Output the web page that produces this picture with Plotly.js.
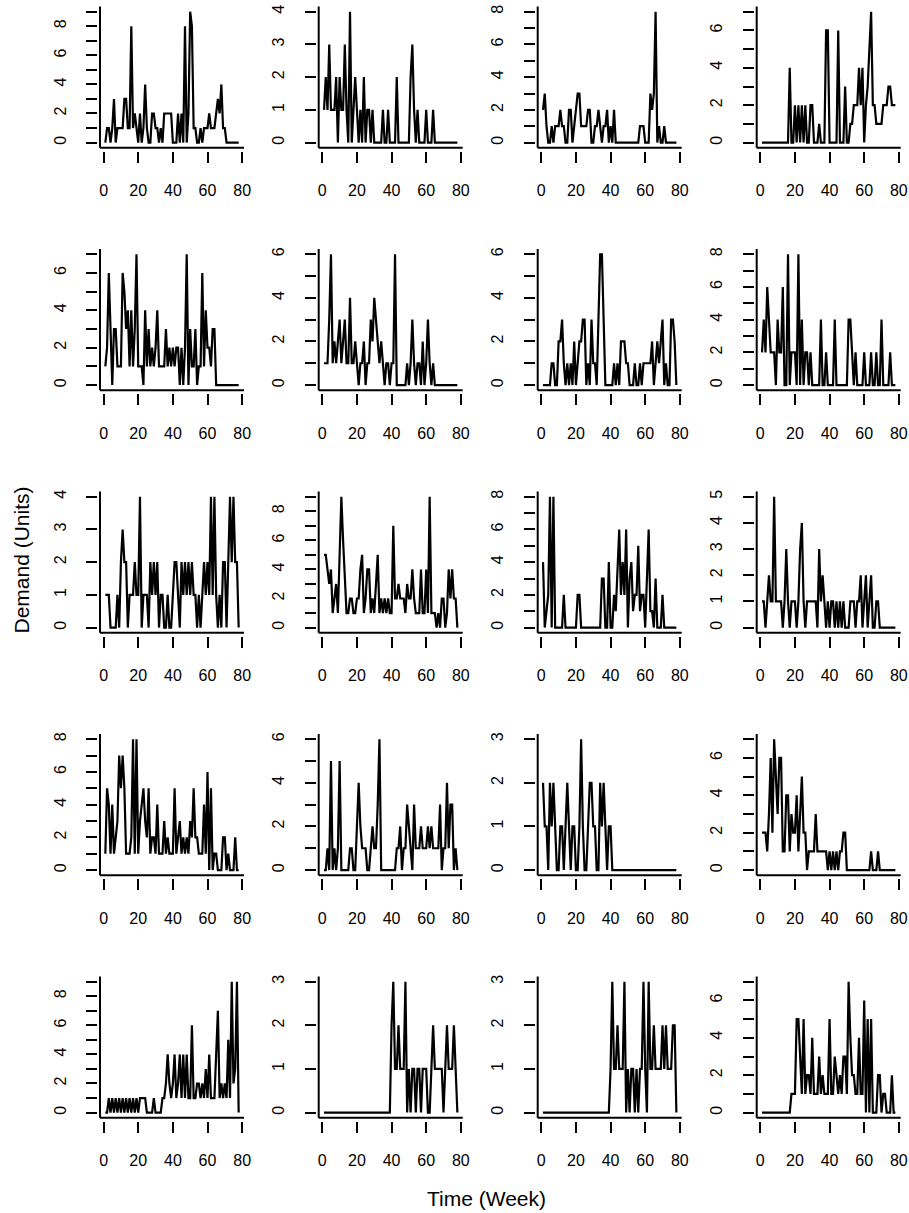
<!DOCTYPE html>
<html><head><meta charset="utf-8">
<script src="https://cdn.plot.ly/plotly-3.0.1.min.js"></script>
<style>html,body{margin:0;padding:0;background:#fff}#chart{width:909px;height:1213px}</style>
</head><body><div id="chart"></div>
<script>
// Weekly demand series (78 weeks each)
const s01 = [0,1,1,0,1,3,0,1,1,1, 1,3,3,1,1,8,1,2,1,0, 2,0,1,4,1,0,0,2,2,1, 1,0,1,0,2,2,2,2,2,0, 0,0,2,0,2,0,8,0,2,9, 8,1,1,0,0,1,0,1,1,1, 2,1,1,1,2,3,2,4,1,1, 0,0,0,0,0,0,0,0];
const s02 = [1,2,1,3,1,1,1,2,0,2, 1,1,3,1,0,4,0,1,2,1, 0,1,0,2,0,1,1,0,1,0, 0,0,0,0,1,0,0,1,0,0, 0,0,2,0,0,0,0,0,0,0, 2,3,1,0,1,0,0,0,0,1, 0,0,0,1,0,0,0,0,0,0, 0,0,0,0,0,0,0,0];
const s03 = [2,3,1,0,0,1,0,1,1,1, 2,1,1,0,0,2,2,0,1,2, 3,3,1,1,1,1,2,2,0,0, 1,1,2,1,0,1,1,2,0,1, 0,2,0,0,0,0,0,0,0,0, 0,0,0,0,0,0,1,1,1,0, 0,0,3,2,3,8,0,1,0,0, 1,0,0,0,0,0,0,0];
const s04 = [0,0,0,0,0,0,0,0,0,0, 0,0,0,0,0,0,4,0,0,2, 0,2,0,2,0,2,0,0,2,2, 0,0,0,1,0,0,0,6,6,0, 0,0,0,0,6,0,0,0,3,0, 0,1,1,2,2,2,4,2,4,0, 2,3,5,7,2,2,1,1,1,1, 2,2,2,3,3,2,2,2];
const s05 = [1,2,6,3,0,3,3,1,1,1, 6,5,3,4,1,4,1,3,7,1, 1,1,0,4,1,3,1,2,1,2, 4,1,1,1,1,3,1,2,1,2, 1,2,2,0,2,0,2,7,0,3, 1,1,3,0,1,1,6,1,4,2, 2,1,3,3,0,0,0,0,0,0, 0,0,0,0,0,0,0,0];
const s06 = [1,1,1,3,6,1,2,1,2,3, 1,2,3,1,1,4,1,1,2,1, 0,1,1,2,0,1,1,3,2,4, 3,2,1,2,1,0,1,1,0,1, 1,6,0,0,0,0,0,0,1,0, 1,3,1,0,1,1,0,2,0,1, 3,1,0,1,0,0,0,0,0,0, 0,0,0,0,0,0,0,0];
const s07 = [0,0,0,0,0,1,1,0,0,2, 2,3,1,0,1,0,1,0,2,0, 1,2,2,3,3,0,1,0,3,1, 1,0,3,6,6,3,0,0,0,0, 0,1,0,1,0,2,2,2,1,1, 0,0,0,1,0,0,1,0,1,1, 1,1,1,2,0,1,2,1,2,3, 0,1,0,0,3,3,2,0];
const s08 = [2,4,2,6,4,2,2,2,0,4, 2,2,6,0,0,8,0,2,2,2, 0,8,0,4,0,2,2,0,2,0, 0,0,0,0,4,0,0,2,0,0, 0,0,4,0,0,0,0,0,0,0, 4,4,2,0,2,0,0,0,0,2, 0,0,0,2,0,0,2,0,0,4, 0,0,0,0,2,0,0,0];
const s09 = [1,1,1,0,0,0,0,1,0,2, 3,2,2,0,1,1,1,2,1,1, 4,0,1,1,1,0,2,1,2,1, 2,0,1,1,0,0,1,0,0,1, 2,2,1,0,2,1,2,1,2,1, 2,1,1,0,1,0,1,2,1,2, 1,4,1,4,1,0,1,0,2,2, 0,2,4,2,4,2,2,0];
const s10 = [5,5,4,3,4,1,2,3,1,5, 9,6,3,1,1,2,2,1,1,2, 2,4,5,1,2,4,4,1,2,1, 3,5,1,2,1,2,1,2,1,1, 7,2,2,3,2,2,2,1,3,2, 2,4,2,1,1,1,4,1,1,4, 1,9,1,1,1,0,1,0,2,2, 0,1,4,2,4,2,2,0];
const s11 = [4,0,1,2,8,0,8,0,0,0, 0,0,2,0,0,0,0,0,0,0, 2,2,0,0,0,0,0,0,0,0, 0,0,0,0,3,3,0,0,4,0, 0,2,1,4,6,2,4,2,6,0, 3,4,1,2,2,5,1,2,2,0, 3,6,1,1,0,3,0,0,0,2, 0,0,0,0,0,0,0,0];
const s12 = [1,1,0,1,2,1,1,5,1,1, 1,1,0,1,3,1,0,1,1,1, 0,1,3,4,1,0,1,1,1,1, 1,1,0,3,1,2,1,0,1,0, 1,1,0,1,0,1,0,1,0,0, 0,1,1,1,0,1,1,2,0,1, 2,0,1,2,0,0,1,1,0,0, 0,0,0,0,0,0,0,0];
const s13 = [1,5,4,1,4,1,2,3,7,5, 7,5,1,1,1,2,8,1,8,1, 3,4,5,3,2,5,1,2,2,1, 4,1,1,1,3,1,2,1,1,1, 5,1,2,3,1,2,1,2,1,3, 2,5,2,2,1,1,1,4,1,6, 0,5,0,1,1,0,0,0,2,2, 0,1,0,0,0,2,0,0];
const s14 = [0,0,1,0,5,0,1,0,1,5, 0,0,0,0,0,1,1,0,0,2, 4,2,1,1,1,0,0,1,2,1, 1,3,6,0,0,0,0,0,0,0, 0,0,1,1,2,0,1,1,3,2, 1,0,3,1,1,1,2,1,1,1, 2,1,2,1,1,1,1,3,0,1, 1,4,1,3,3,0,1,0];
const s15 = [2,1,1,0,2,1,2,1,0,0, 1,1,0,1,2,1,0,1,1,0, 0,1,3,1,0,0,1,2,2,1, 1,0,0,2,1,2,1,0,1,1, 0,0,0,0,0,0,0,0,0,0, 0,0,0,0,0,0,0,0,0,0, 0,0,0,0,0,0,0,0,0,0, 0,0,0,0,0,0,0,0];
const s16 = [2,2,2,1,3,6,2,7,5,3, 6,6,1,1,4,4,1,3,2,2, 4,1,3,5,2,2,0,1,1,1, 1,3,1,1,1,1,1,1,0,1, 0,1,0,1,0,1,1,2,2,0, 0,0,0,0,0,0,0,0,0,0, 0,0,0,1,0,0,0,1,0,0, 0,0,0,0,0,0,0,0];
const s17 = [0,0,1,0,1,0,1,0,1,0, 1,0,1,0,1,0,1,0,1,0, 1,1,1,1,0,0,0,0,1,0, 0,0,0,1,1,2,4,2,1,2, 4,1,2,4,1,4,1,4,1,1, 6,1,1,2,2,1,2,1,3,1, 4,1,1,1,4,7,1,2,1,2, 1,5,1,9,2,3,9,0];
const s18 = [0,0,0,0,0,0,0,0,0,0, 0,0,0,0,0,0,0,0,0,0, 0,0,0,0,0,0,0,0,0,0, 0,0,0,0,0,0,0,0,0,2, 3,1,1,2,1,1,1,3,0,1, 0,1,1,0,1,1,0,1,1,1, 0,0,1,2,1,1,1,1,1,0, 1,2,1,1,1,2,1,0];
const s19 = [0,0,0,0,0,0,0,0,0,0, 0,0,0,0,0,0,0,0,0,0, 0,0,0,0,0,0,0,0,0,0, 0,0,0,0,0,0,0,0,0,1, 3,1,1,2,1,1,1,3,0,1, 0,1,1,0,1,0,1,1,3,1, 0,3,1,1,2,1,1,1,1,2, 1,2,1,1,1,2,2,0];
const s20 = [0,0,0,0,0,0,0,0,0,0, 0,0,0,0,0,0,0,1,1,1, 5,5,3,1,5,1,2,2,1,4, 1,1,1,3,1,2,1,1,1,5, 1,1,3,2,1,2,1,3,3,1, 7,4,2,2,1,1,4,1,1,6, 0,5,0,5,0,0,0,2,2,0, 1,1,0,0,0,2,0,0];

const seriesList = [s01,s02,s03,s04,s05,s06,s07,s08,s09,s10,s11,s12,s13,s14,s15,s16,s17,s18,s19,s20];
const xTickVals = [0, 20, 40, 60, 80];
const xTickText = ['0', '20', '40', '60', '80'];
const yTitle = 'Demand (Units)';
const xTitle = 'Time (Week)';

const W = 909, H = 1213;
const colLeft = [100, 318.7, 537.7, 756.7], plotW = 144;
const rowTop = [6.5, 249, 491.5, 734, 976.5], plotH = 141.3;
const gap = 3;
const FONT = 'Liberation Sans, Arial, Helvetica, sans-serif';

const traces = [];
const layout = {
  width: W, height: H,
  margin: {l: 0, r: 0, t: 0, b: 0},
  showlegend: false,
  paper_bgcolor: '#ffffff', plot_bgcolor: '#ffffff',
  font: {family: FONT, size: 16, color: '#000000'},
  shapes: [], annotations: []
};

seriesList.forEach((ys, i) => {
  const n = i + 1, r = Math.floor(i / 4), c = i % 4;
  const sfx = n === 1 ? '' : String(n);
  const weeks = ys.map((_, k) => k + 1);
  const ymax = Math.max(...ys);
  const xd = [colLeft[c] / W, (colLeft[c] + plotW) / W];
  const yd = [1 - (rowTop[r] + plotH) / H, 1 - rowTop[r] / H];
  const yVals = [], yText = [];
  for (let v = 0; v <= ymax; v++) {
    yVals.push(v);
    yText.push(ymax >= 6 ? (v % 2 === 0 ? String(v) : '') : String(v));
  }
  traces.push({
    type: 'scatter', mode: 'lines', x: weeks, y: ys,
    xaxis: 'x' + sfx, yaxis: 'y' + sfx,
    line: {color: '#000000', width: 2.2}, hoverinfo: 'skip'
  });
  layout['xaxis' + sfx] = {
    domain: xd, range: [-2.08, 81.08], anchor: 'free', position: yd[0] - gap / H,
    showline: false, showgrid: false, zeroline: false,
    ticks: 'outside', ticklen: 11, tickwidth: 2, tickcolor: '#000',
    tickmode: 'array', tickvals: xTickVals, ticktext: xTickText,
    tickfont: {family: FONT, size: 16, color: '#000'}, ticklabelstandoff: 14,
    fixedrange: true
  };
  layout['yaxis' + sfx] = {
    domain: yd, range: [-0.04 * ymax, 1.04 * ymax], anchor: 'free', position: xd[0] - gap / W,
    showline: false, showgrid: false, zeroline: false,
    ticks: 'outside', ticklen: 11, tickwidth: 2, tickcolor: '#000',
    tickmode: 'array', tickvals: yVals, ticktext: yText, tickangle: -90,
    tickfont: {family: FONT, size: 16, color: '#000'}, ticklabelstandoff: 14,
    fixedrange: true
  };
  layout.shapes.push({type: 'line', xref: 'x' + sfx + ' domain', yref: 'y' + sfx + ' domain',
    x0: 0, x1: 0, y0: 0, y1: 1, line: {color: '#000', width: 2}});
  layout.shapes.push({type: 'line', xref: 'x' + sfx + ' domain', yref: 'y' + sfx + ' domain',
    x0: 0, x1: 1, y0: 0, y1: 0, line: {color: '#000', width: 2}});
});

layout.annotations.push({
  text: yTitle, xref: 'paper', yref: 'paper', x: 20.5 / W, y: 1 - 560 / H,
  xanchor: 'center', yanchor: 'middle', textangle: -90, showarrow: false,
  font: {family: FONT, size: 21, color: '#000'}
});
layout.annotations.push({
  text: xTitle, xref: 'paper', yref: 'paper', x: 486.7 / W, y: 1 - 1198 / H,
  xanchor: 'center', yanchor: 'middle', showarrow: false,
  font: {family: FONT, size: 21, color: '#000'}
});

Plotly.newPlot('chart', traces, layout, {staticPlot: true, displayModeBar: false});
</script>
</body></html>
